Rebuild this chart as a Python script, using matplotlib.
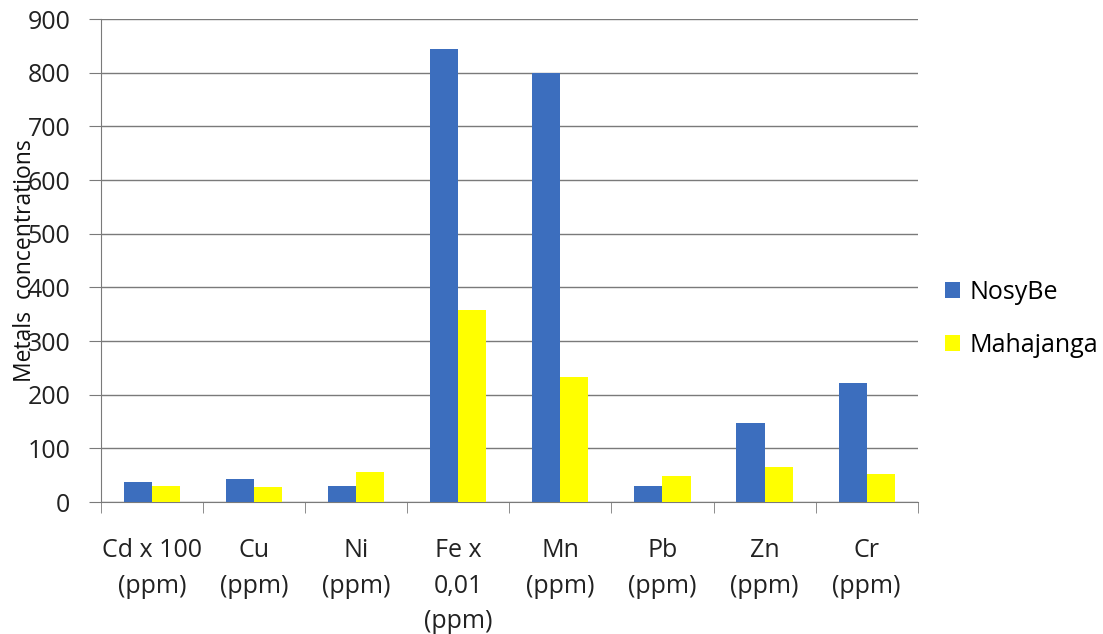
import matplotlib.pyplot as plt
import numpy as np

categories = ["Cd x 100\n(ppm)", "Cu\n(ppm)", "Ni\n(ppm)", "Fe x\n0,01\n(ppm)", "Mn\n(ppm)", "Pb\n(ppm)", "Zn\n(ppm)", "Cr\n(ppm)"]
nosybe = [37, 43, 30, 844, 800, 30, 147, 222]
mahajanga = [30, 28, 56, 358, 233, 48, 65, 52]

plt.rcParams["font.family"] = ["Open Sans", "DejaVu Sans"]

fig = plt.figure(figsize=(11.03, 6.34), dpi=100)
ax = fig.add_axes([0.0916, 0.208, 0.7404, 0.762])

x = np.arange(len(categories))
w = 0.275
ax.bar(x - w / 2, nosybe, w, color="#3C6EBE", label="NosyBe", zorder=3)
ax.bar(x + w / 2, mahajanga, w, color="#FFFF00", label="Mahajanga", zorder=3)

ax.set_xlim(-0.5, len(categories) - 0.5)
ax.set_ylim(0, 900)
ax.set_yticks(range(0, 901, 100))
ax.yaxis.grid(True, color="#7a7a7a", lw=1, zorder=0)

ax.set_xticks(x)
ax.set_xticklabels(categories, fontsize=18, color="#222222", linespacing=1.55)
ax.set_xticks(np.arange(-0.5, len(categories)), minor=True)
ax.tick_params(axis="x", which="major", length=0, pad=26)
ax.tick_params(axis="x", which="minor", length=8, color="#7a7a7a")
ax.tick_params(axis="y", length=9, pad=13, color="#7a7a7a", labelsize=18, labelcolor="#222222")

for s in ["top", "right"]:
    ax.spines[s].set_visible(False)
ax.spines["left"].set_color("#7a7a7a")
ax.spines["bottom"].set_color("#7a7a7a")

# label sits over the tick numbers, as in the original
ax.set_ylabel("Metals  concentrations", fontsize=16.5, color="#111111")
ax.yaxis.set_label_coords(-0.078, 0.5)

fig.legend(loc="center left", bbox_to_anchor=(0.836, 0.497), frameon=False,
           fontsize=18, handlelength=0.6, handleheight=0.6, labelspacing=1.1,
           handletextpad=0.4)

fig.savefig("out.png", dpi=100)
